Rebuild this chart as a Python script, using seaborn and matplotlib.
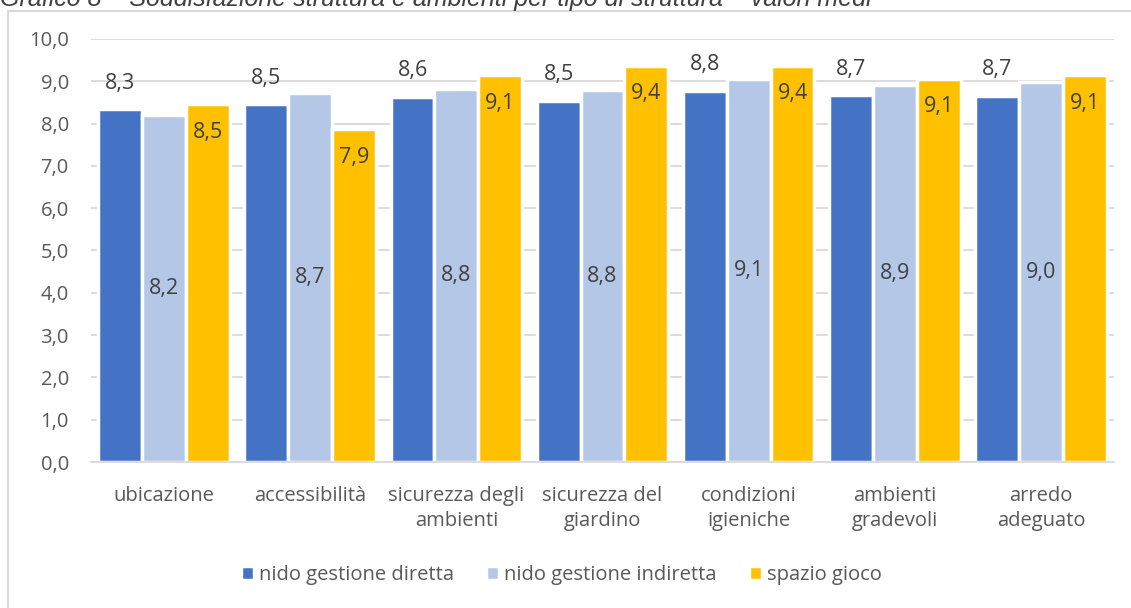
import matplotlib
matplotlib.use("Agg")
import matplotlib.pyplot as plt
import matplotlib.patches as mpatches
import numpy as np
import pandas as pd
import seaborn as sns

# dati
categorie = ["ubicazione", "accessibilità", "sicurezza degli\nambienti", "sicurezza del\ngiardino",
             "condizioni\nigieniche", "ambienti\ngradevoli", "arredo\nadeguato"]
serie = ["nido gestione diretta", "nido gestione indiretta", "spazio gioco"]
diretta = [8.34, 8.46, 8.63, 8.54, 8.77, 8.67, 8.66]
indiretta = [8.20, 8.72, 8.81, 8.79, 9.05, 8.92, 8.98]
spazio = [8.46, 7.86, 9.14, 9.36, 9.36, 9.06, 9.14]
yticks = np.arange(0, 11, 1)

colori = ["#4472C4", "#B4C7E7", "#FFC000"]
grigio = "#595959"

df = pd.DataFrame({
    "categoria": categorie * 3,
    "serie": np.repeat(serie, len(categorie)),
    "valore": diretta + indiretta + spazio,
})

sns.set_style("white")
plt.rcParams["font.family"] = ["Open Sans", "DejaVu Sans"]

fig = plt.figure(figsize=(11.31, 6.08), dpi=100)
ax = fig.add_axes([0.0805, 0.240, 0.9045, 0.696])

sns.barplot(data=df, x="categoria", y="valore", hue="serie", palette=colori,
            width=0.9, saturation=1, edgecolor="white", linewidth=2.5, ax=ax)

ax.set_ylim(0, 10)
ax.set_xlim(-0.5, len(categorie) - 0.5)
ax.set_yticks(yticks)
ax.set_yticklabels([f"{t:.1f}".replace(".", ",") for t in yticks])
ax.yaxis.grid(True, color="#d9d9d9", linewidth=1.3)
ax.set_axisbelow(True)
ax.set_xlabel("")
ax.set_ylabel("")
for s in ["top", "right", "left"]:
    ax.spines[s].set_visible(False)
ax.spines["bottom"].set_color("#d9d9d9")
ax.spines["bottom"].set_linewidth(1.3)
ax.tick_params(axis="both", length=0, labelsize=14.5, colors=grigio)
ax.tick_params(axis="x", pad=17)
ax.tick_params(axis="y", pad=16)
for t in ax.get_xticklabels():
    t.set_linespacing(1.35)

fmt = lambda v: f"{v:.1f}".replace(".", ",")
# etichette: sopra (diretta), al centro (indiretta), dentro in alto (spazio gioco)
for i, cont in enumerate(ax.containers):
    for bar in cont:
        h = bar.get_height()
        xc = bar.get_x() + bar.get_width() / 2
        if i == 0:
            ax.annotate(fmt(h), (xc, h), xytext=(0, 26), textcoords="offset pixels",
                        ha="center", va="center", fontsize=15.5, color="#404040")
        elif i == 1:
            ax.annotate(fmt(h), (xc, h / 2), ha="center", va="center",
                        fontsize=15.5, color="#404040")
        else:
            ax.annotate(fmt(h), (xc, h), xytext=(0, -28), textcoords="offset pixels",
                        ha="center", va="center", fontsize=15.5, color="#404040")

leg = ax.legend(loc="center", bbox_to_anchor=(0.46, -0.267), ncol=3, frameon=False,
                fontsize=14.5, handlelength=0.65, handleheight=0.65, handletextpad=0.25,
                columnspacing=1.6, labelcolor=grigio)

# cornice del grafico (tagliata a destra e in basso)
fig.patches.append(mpatches.Rectangle((8 / 1131, -0.1), 1.2, 1.1 - 11 / 608,
                                      transform=fig.transFigure, fill=False,
                                      edgecolor="#d9d9d9", linewidth=1.5))

fig.text(0.0, 1 - 6 / 608,
         "Grafico 8 – Soddisfazione struttura e ambienti per tipo di struttura – valori medi",
         family=["Liberation Sans", "DejaVu Sans"], style="italic", fontsize=18,
         color="#404040", ha="left", va="baseline")

fig.savefig("out.png", dpi=100)
